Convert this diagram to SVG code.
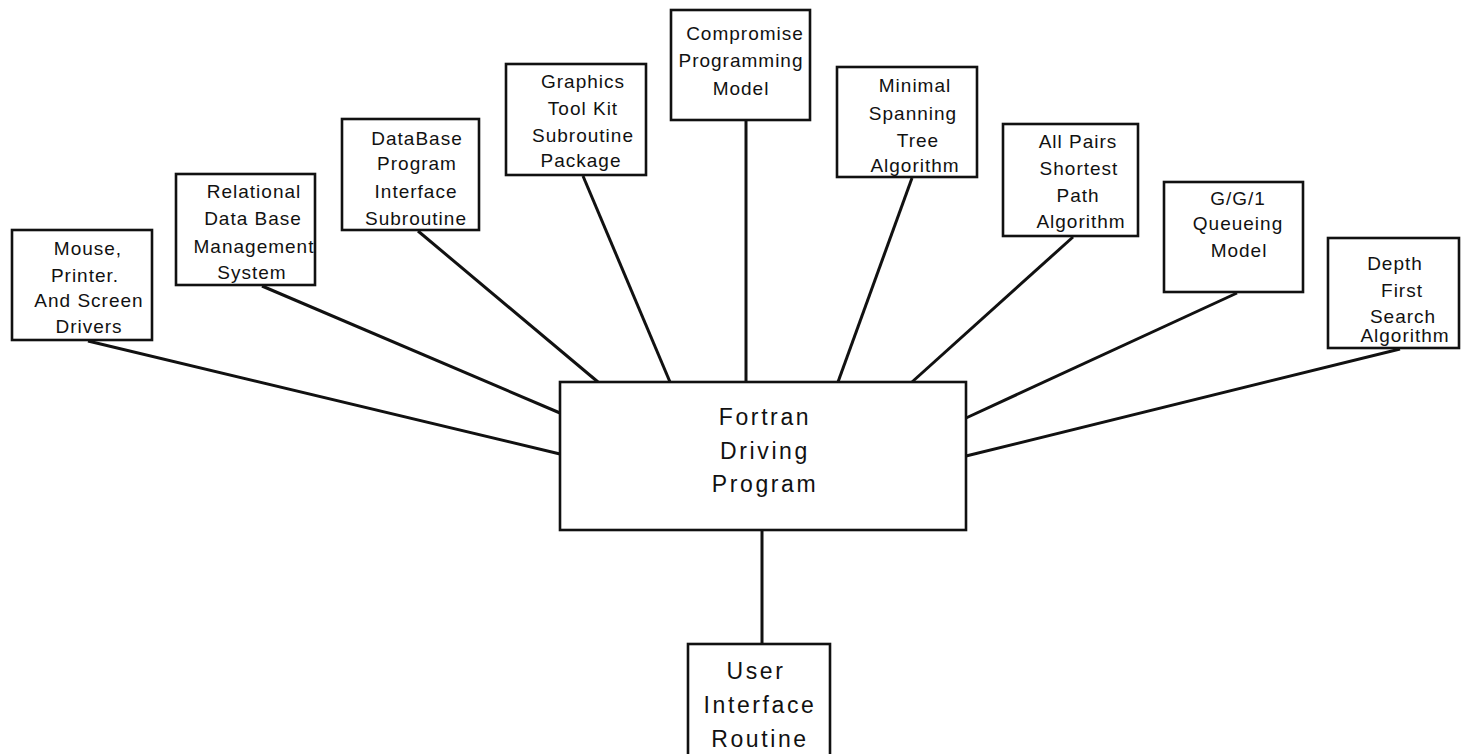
<svg xmlns="http://www.w3.org/2000/svg" width="1461" height="754" viewBox="0 0 1461 754">
<style>
.box{fill:#fff;stroke:#111;stroke-width:2.6}
.edge{stroke:#111;stroke-width:3;fill:none}
.t{font-family:"Liberation Sans",Arial,sans-serif;font-size:19px;letter-spacing:1px;text-anchor:middle;fill:#111}
.big{font-family:"Liberation Sans",Arial,sans-serif;font-size:23px;letter-spacing:2.6px;text-anchor:middle;fill:#111}
</style>
<rect width="1461" height="754" fill="#fff"/>
<g id="connectors">
<line class="edge" x1="88" y1="341" x2="560" y2="454"/>
<line class="edge" x1="262" y1="286" x2="560" y2="413"/>
<line class="edge" x1="418" y1="231" x2="598" y2="382"/>
<line class="edge" x1="583" y1="176" x2="670" y2="382"/>
<line class="edge" x1="746" y1="121" x2="746" y2="382"/>
<line class="edge" x1="912" y1="178" x2="838" y2="382"/>
<line class="edge" x1="1073" y1="237" x2="912" y2="382"/>
<line class="edge" x1="1237" y1="293" x2="966" y2="418"/>
<line class="edge" x1="1400" y1="349" x2="966" y2="456"/>
<line class="edge" x1="762" y1="530" x2="762" y2="644"/>
</g>
<g id="mouse">
<rect class="box" x="12" y="230" width="140" height="110"/>
<text class="t" x="88" y="255">Mouse,</text>
<text class="t" x="85" y="282">Printer.</text>
<text class="t" x="89" y="307">And Screen</text>
<text class="t" x="89" y="333">Drivers</text>
</g>
<g id="relational">
<rect class="box" x="176" y="174" width="139" height="111"/>
<text class="t" x="254" y="198">Relational</text>
<text class="t" x="253" y="225">Data Base</text>
<text class="t" x="254" y="253">Management</text>
<text class="t" x="252" y="279">System</text>
</g>
<g id="database">
<rect class="box" x="342" y="119" width="137" height="111"/>
<text class="t" x="417" y="145">DataBase</text>
<text class="t" x="417" y="170">Program</text>
<text class="t" x="416" y="198">Interface</text>
<text class="t" x="416" y="225">Subroutine</text>
</g>
<g id="graphics">
<rect class="box" x="506" y="64" width="140" height="111"/>
<text class="t" x="583" y="88">Graphics</text>
<text class="t" x="583" y="115">Tool Kit</text>
<text class="t" x="583" y="142">Subroutine</text>
<text class="t" x="581" y="167">Package</text>
</g>
<g id="compromise">
<rect class="box" x="671" y="10" width="139" height="110"/>
<text class="t" x="745" y="40">Compromise</text>
<text class="t" x="741" y="67">Programming</text>
<text class="t" x="741" y="95">Model</text>
</g>
<g id="minimal">
<rect class="box" x="837" y="67" width="140" height="110"/>
<text class="t" x="915" y="92">Minimal</text>
<text class="t" x="913" y="120">Spanning</text>
<text class="t" x="918" y="147">Tree</text>
<text class="t" x="915" y="172">Algorithm</text>
</g>
<g id="allpairs">
<rect class="box" x="1003" y="124" width="135" height="112"/>
<text class="t" x="1078" y="148">All Pairs</text>
<text class="t" x="1079" y="175">Shortest</text>
<text class="t" x="1078" y="202">Path</text>
<text class="t" x="1081" y="228">Algorithm</text>
</g>
<g id="gg1">
<rect class="box" x="1164" y="182" width="139" height="110"/>
<text class="t" x="1238" y="205">G/G/1</text>
<text class="t" x="1238" y="230">Queueing</text>
<text class="t" x="1239" y="257">Model</text>
</g>
<g id="depth">
<rect class="box" x="1328" y="238" width="131" height="110"/>
<text class="t" x="1395" y="270">Depth</text>
<text class="t" x="1402" y="297">First</text>
<text class="t" x="1403" y="323">Search</text>
<text class="t" x="1405" y="342">Algorithm</text>
</g>
<g id="fortran">
<rect class="box" x="560" y="382" width="406" height="148"/>
<text class="big" x="765" y="425">Fortran</text>
<text class="big" x="765" y="459">Driving</text>
<text class="big" x="765" y="492">Program</text>
</g>
<g id="user">
<rect class="box" x="688" y="644" width="142" height="120"/>
<text class="big" x="756" y="679">User</text>
<text class="big" x="760" y="713">Interface</text>
<text class="big" x="760" y="747">Routine</text>
</g>
</svg>
